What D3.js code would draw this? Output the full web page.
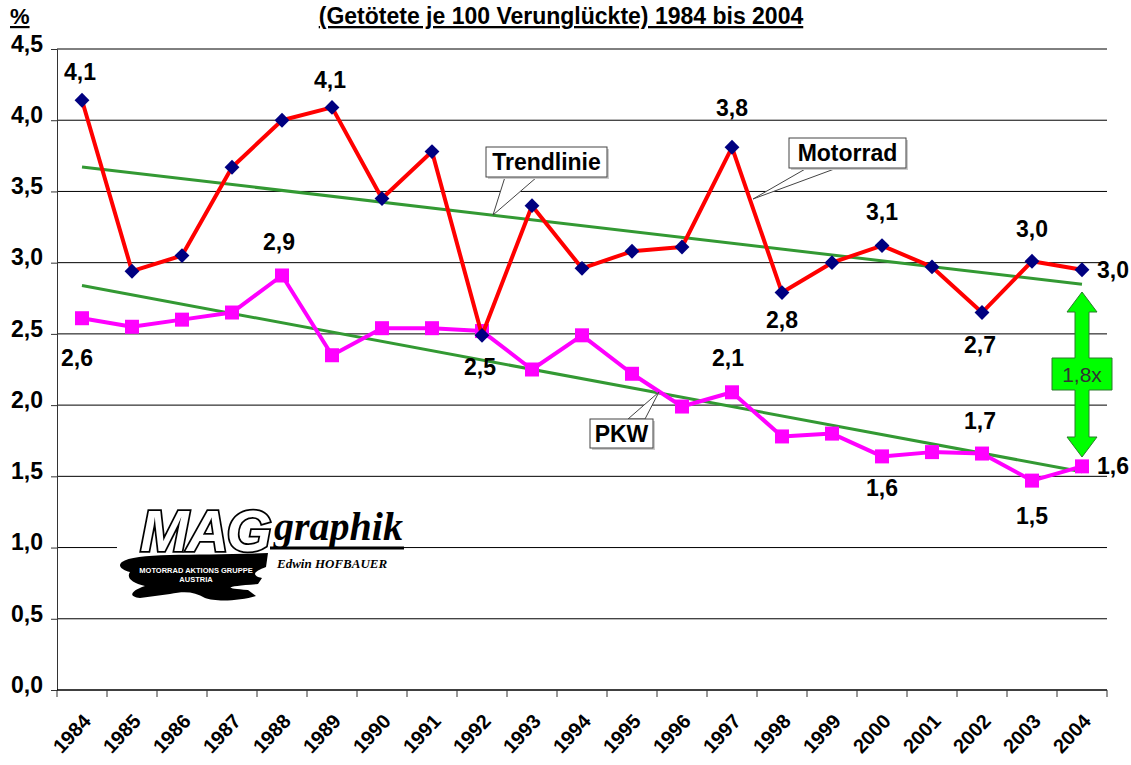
<!DOCTYPE html>
<html>
<head>
<meta charset="utf-8">
<script src="https://cdn.jsdelivr.net/npm/d3@7"></script>
<style>
  body { margin: 0; background: #fff; }
  svg { display: block; }
  .bold { font-family: "Liberation Sans", Arial, sans-serif; font-weight: bold; }
</style>
</head>
<body>
<div id="chart"></div>
<script>
// Jahre und Werte (Getötete je 100 Verunglückte)
const years = ["1984","1985","1986","1987","1988","1989","1990","1991","1992","1993","1994",
               "1995","1996","1997","1998","1999","2000","2001","2002","2003","2004"];
const motorrad = [4.14,2.94,3.05,3.67,4.00,4.09,3.45,3.78,2.49,3.40,2.96,
                  3.08,3.11,3.81,2.79,3.00,3.12,2.97,2.65,3.01,2.95];
const pkw = [2.61,2.55,2.60,2.65,2.91,2.35,2.54,2.54,2.52,2.25,2.49,
             2.22,1.99,2.09,1.78,1.80,1.64,1.67,1.66,1.47,1.57];
const yTicks = [0,0.5,1,1.5,2,2.5,3,3.5,4,4.5];

// Beschriftungen an einzelnen Punkten
const motorradLabels = [
  { year: "1984", text: "4,1", dx: -2, dy: -20 },
  { year: "1989", text: "4,1", dx: -2, dy: -19 },
  { year: "1997", text: "3,8", dx: 0, dy: -31 },
  { year: "2000", text: "3,1", dx: 0, dy: -26 },
  { year: "2003", text: "3,0", dx: 0, dy: -24 },
  { year: "2004", text: "3,0", dx: 31, dy: 8 },
  { year: "1998", text: "2,8", dx: 0, dy: 35 },
  { year: "2002", text: "2,7", dx: -2, dy: 40 },
  { year: "1992", text: "2,5", dx: -2, dy: 40 }
];
const pkwLabels = [
  { year: "1984", text: "2,6", dx: -5, dy: 48 },
  { year: "1988", text: "2,9", dx: -3, dy: -25 },
  { year: "1997", text: "2,1", dx: -4, dy: -26 },
  { year: "2002", text: "1,7", dx: -2, dy: -25 },
  { year: "2000", text: "1,6", dx: 0, dy: 40 },
  { year: "2003", text: "1,5", dx: 0, dy: 43 },
  { year: "2004", text: "1,6", dx: 31, dy: 8 }
];

const width = 1131, height = 765;
const svg = d3.select("#chart").append("svg").attr("width", width).attr("height", height);

const x = d3.scaleBand().domain(years).range([57, 1107]);
const cx = d => x(d) + x.bandwidth() / 2;
const y = d3.scaleLinear().domain([0, 4.5]).range([690, 49]);
const fmt = v => d3.format(".1f")(v).replace(".", ",");

// Titel
svg.append("text").attr("class", "bold").attr("x", 561).attr("y", 24)
  .attr("text-anchor", "middle").attr("font-size", 23)
  .attr("text-decoration", "underline")
  .text("(Getötete je 100 Verunglückte) 1984 bis 2004");
svg.append("text").attr("class", "bold").attr("x", 10).attr("y", 24)
  .attr("font-size", 22).attr("text-decoration", "underline").text("%");

// Gitternetz
svg.append("g").selectAll("line").data(yTicks.filter(d => d > 0)).join("line")
  .attr("x1", 57).attr("x2", 1107)
  .attr("y1", d => y(d)).attr("y2", d => y(d))
  .attr("stroke", "#000").attr("stroke-width", 1);

// y-Achse
const yAxis = svg.append("g").attr("transform", "translate(57,0)")
  .call(d3.axisLeft(y).tickValues(yTicks).tickSize(6).tickFormat(fmt));
yAxis.select(".domain").attr("stroke", "#333");
yAxis.selectAll(".tick line").attr("stroke", "#333");
yAxis.selectAll(".tick text").attr("class", "bold").attr("font-size", 23)
  .attr("fill", "#000").attr("x", -14).attr("dy", "0.1em");

// x-Achse
const xg = svg.append("g");
xg.append("line").attr("x1", 57).attr("x2", 1107).attr("y1", 690).attr("y2", 690)
  .attr("stroke", "#000").attr("stroke-width", 1.5);
xg.selectAll("line.tk").data(years.concat(["end"])).join("line").attr("class", "tk")
  .attr("x1", d => d === "end" ? 1107 : x(d)).attr("x2", d => d === "end" ? 1107 : x(d))
  .attr("y1", 690).attr("y2", 697).attr("stroke", "#333");
xg.selectAll("text").data(years).join("text").attr("class", "bold")
  .attr("font-size", 20).attr("text-anchor", "end")
  .attr("transform", d => `translate(${cx(d) + 10},${722}) rotate(-47)`)
  .text(d => d);

// Logo
const logo = svg.append("g");
logo.append("rect").attr("x", 117).attr("y", 500).attr("width", 287).attr("height", 106).attr("fill", "#fff");
logo.append("path")
  .attr("d", "M122,562 C135,552 200,556 268,553 L266,567 C255,571 250,575 262,578 L258,584 " +
             "C230,586 218,588 248,590 L256,596 C240,601 215,602 205,598 C195,592 185,591 170,594 " +
             "L140,598 C128,597 130,591 145,586 C132,583 126,578 130,572 C122,570 117,566 122,562 Z")
  .attr("fill", "#000");
logo.append("text").attr("x", 205).attr("y", 551).attr("text-anchor", "middle")
  .attr("font-family", "Liberation Sans, Arial, sans-serif").attr("font-weight", "bold")
  .attr("font-style", "italic").attr("font-size", 58).attr("fill", "#fff")
  .attr("stroke", "#000").attr("stroke-width", 3.5).attr("paint-order", "stroke")
  .attr("letter-spacing", -2).text("MAG");
logo.append("text").attr("x", 196).attr("y", 573).attr("text-anchor", "middle")
  .attr("class", "bold").attr("font-size", 7.5).attr("fill", "#fff").text("MOTORRAD AKTIONS GRUPPE");
logo.append("text").attr("x", 196).attr("y", 582).attr("text-anchor", "middle")
  .attr("class", "bold").attr("font-size", 7.5).attr("fill", "#fff").text("AUSTRIA");
logo.append("text").attr("x", 274).attr("y", 540)
  .attr("font-family", "Liberation Serif, 'Times New Roman', serif").attr("font-weight", "bold")
  .attr("font-style", "italic").attr("font-size", 40).attr("fill", "#000").text("graphik");
logo.append("line").attr("x1", 270).attr("x2", 404).attr("y1", 548).attr("y2", 548)
  .attr("stroke", "#000").attr("stroke-width", 3);
logo.append("text").attr("x", 277).attr("y", 568)
  .attr("font-family", "Liberation Serif, 'Times New Roman', serif").attr("font-weight", "bold")
  .attr("font-style", "italic").attr("font-size", 13).attr("fill", "#000").text("Edwin HOFBAUER");

// Trendlinien (lineare Regression)
function trend(vals) {
  const n = vals.length, xs = d3.range(n);
  const mx = d3.mean(xs), my = d3.mean(vals);
  const b = d3.sum(xs, (xi, i) => (xi - mx) * (vals[i] - my)) / d3.sum(xs, xi => (xi - mx) ** 2);
  const a = my - b * mx;
  return [a, a + b * (n - 1)];
}
[motorrad, pkw].forEach(vals => {
  const t = trend(vals);
  svg.append("line")
    .attr("x1", cx(years[0])).attr("y1", y(t[0]))
    .attr("x2", cx(years[years.length - 1])).attr("y2", y(t[1]))
    .attr("stroke", "#339933").attr("stroke-width", 3);
});

const line = d3.line().x((d, i) => cx(years[i])).y(d => y(d));

// PKW
svg.append("path").datum(pkw).attr("d", line).attr("fill", "none")
  .attr("stroke", "#ff00ff").attr("stroke-width", 4).attr("stroke-linejoin", "round");
svg.append("g").selectAll("rect").data(pkw).join("rect")
  .attr("x", (d, i) => cx(years[i]) - 7).attr("y", d => y(d) - 7)
  .attr("width", 14).attr("height", 14).attr("fill", "#ff00ff");

// Motorrad
svg.append("path").datum(motorrad).attr("d", line).attr("fill", "none")
  .attr("stroke", "#ff0000").attr("stroke-width", 4).attr("stroke-linejoin", "round");
svg.append("g").selectAll("path").data(motorrad).join("path")
  .attr("d", d3.symbol(d3.symbolSquare, 110))
  .attr("transform", (d, i) => `translate(${cx(years[i])},${y(d)}) rotate(45)`)
  .attr("fill", "#000080");

// Datenbeschriftungen
function labels(list, vals) {
  svg.append("g").selectAll("text").data(list).join("text")
    .attr("class", "bold").attr("font-size", 23)
    .attr("text-anchor", "middle")
    .attr("x", d => cx(d.year) + d.dx)
    .attr("y", d => y(vals[years.indexOf(d.year)]) + d.dy)
    .text(d => d.text);
}
labels(motorradLabels, motorrad);
labels(pkwLabels, pkw);

// Legenden-Kästchen mit Zeiger
function callout(text, box, base, tip) {
  const g = svg.append("g");
  const by = base[2] === "top" ? box[1] : box[1] + box[3];
  g.append("polygon")
    .attr("points", [[base[0], by], [base[1], by], tip].map(p => p.join(",")).join(" "))
    .attr("fill", "#fff").attr("stroke", "#444").attr("stroke-width", 1);
  g.append("rect").attr("x", box[0] + 2).attr("y", box[1] + 2).attr("width", box[2]).attr("height", box[3])
    .attr("fill", "#ccc");
  g.append("rect").attr("x", box[0]).attr("y", box[1]).attr("width", box[2]).attr("height", box[3])
    .attr("fill", "#fff").attr("stroke", "#444").attr("stroke-width", 1);
  g.append("text").attr("class", "bold").attr("font-size", 23)
    .attr("x", box[0] + box[2] / 2).attr("y", box[1] + box[3] / 2 + 8)
    .attr("text-anchor", "middle").text(text);
}
callout("Trendlinie", [486, 147, 121, 30], [505, 537], [493, 215]);
callout("Motorrad", [789, 138, 117, 30], [807, 837], [753, 199]);
callout("PKW", [590, 419, 63, 29], [628, 645, "top"], [659, 392]);

// Faktor-Pfeil
const ax = cx("2004");
const aTop = 292, aBot = 457, hh = 20, hw = 15, sw = 7;
const arrow = [
  [ax, aTop], [ax + hw, aTop + hh], [ax + sw, aTop + hh], [ax + sw, 358], [ax + 30, 358], [ax + 30, 390],
  [ax + sw, 390], [ax + sw, aBot - hh], [ax + hw, aBot - hh], [ax, aBot], [ax - hw, aBot - hh],
  [ax - sw, aBot - hh], [ax - sw, 390], [ax - 30, 390], [ax - 30, 358], [ax - sw, 358],
  [ax - sw, aTop + hh], [ax - hw, aTop + hh]
];
svg.append("polygon").attr("points", arrow.map(p => p.join(",")).join(" "))
  .attr("fill", "#00ff00").attr("stroke", "#2a7a2a").attr("stroke-width", 1);
svg.append("text").attr("font-family", "Liberation Sans, Arial, sans-serif")
  .attr("font-size", 21).attr("fill", "#333").attr("text-anchor", "middle")
  .attr("x", ax).attr("y", 382).text("1,8x");
</script>
</body>
</html>
